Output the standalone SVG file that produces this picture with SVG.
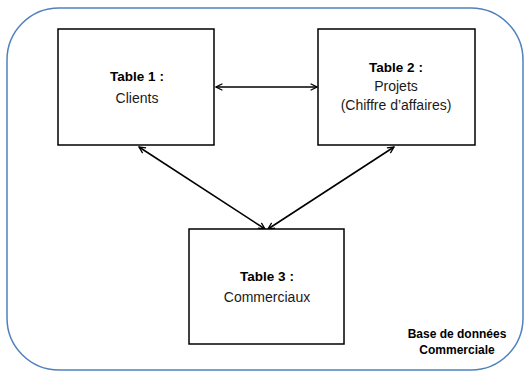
<svg xmlns="http://www.w3.org/2000/svg" width="525" height="372" viewBox="0 0 525 372">
<style>
.box{fill:#fff;stroke:#000;stroke-width:1.5}
.t{font-family:"Liberation Sans",Arial,sans-serif;font-size:14px;text-anchor:middle;fill:#1a1a1a}
.b{font-weight:bold;font-size:13.5px;fill:#000}
.conn{stroke:#000;stroke-width:1.6;fill:none;marker-start:url(#ah);marker-end:url(#ah)}
</style>
<defs>
<marker id="ah" viewBox="0 0 10 10" refX="9" refY="5" markerWidth="8" markerHeight="8" markerUnits="userSpaceOnUse" orient="auto-start-reverse">
<path d="M1,1 L9,5 L1,9" fill="none" stroke="#000" stroke-width="1.6"/>
</marker>
</defs>
<rect x="7" y="8" width="516" height="362" rx="52" ry="52" fill="#fff" stroke="#4f81bd" stroke-width="1.5"/>
<g id="connectors">
<line class="conn" x1="216" y1="87" x2="317" y2="87"/>
<line class="conn" x1="139" y1="147" x2="265" y2="229"/>
<line class="conn" x1="394" y1="147" x2="268" y2="229"/>
</g>
<g id="table1">
<rect class="box" x="58" y="29" width="156" height="116"/>
<text class="t b" x="137" y="81">Table 1 :</text>
<text class="t" x="137" y="103">Clients</text>
</g>
<g id="table2">
<rect class="box" x="318" y="29" width="157" height="116"/>
<text class="t b" x="396" y="72">Table 2 :</text>
<text class="t" x="396" y="91">Projets</text>
<text class="t" x="396" y="110">(Chiffre d’affaires)</text>
</g>
<g id="table3">
<rect class="box" x="189" y="229" width="155" height="115"/>
<text class="t b" x="267" y="281">Table 3 :</text>
<text class="t" x="267" y="302">Commerciaux</text>
</g>
<g id="label">
<text class="t b" style="font-size:12px" x="457" y="338">Base de données</text>
<text class="t b" style="font-size:12px" x="457" y="354">Commerciale</text>
</g>
</svg>
